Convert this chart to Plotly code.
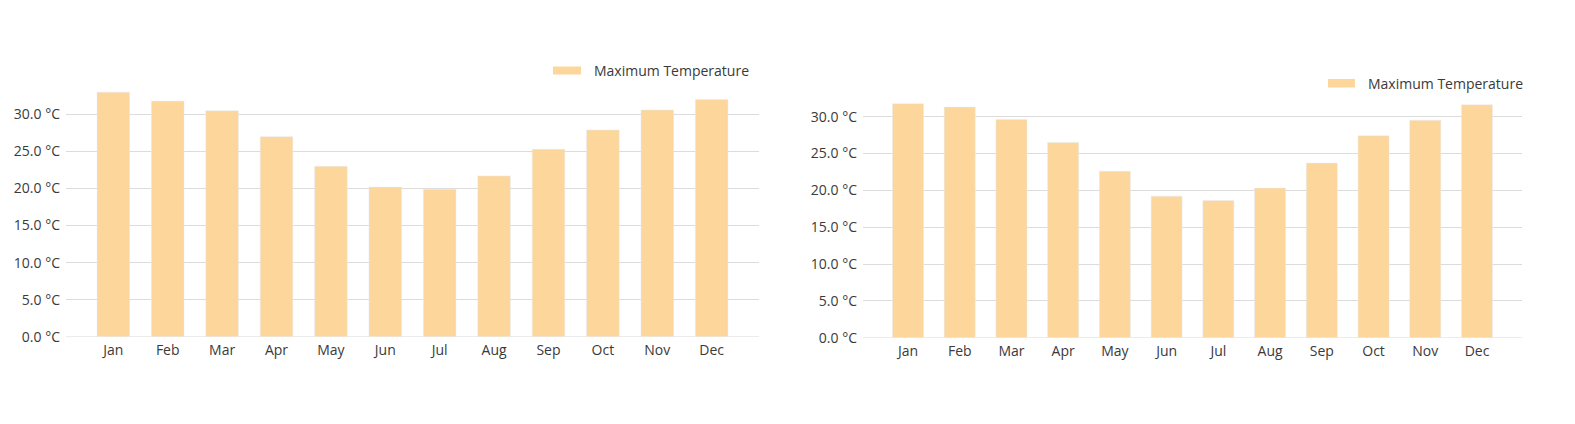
import plotly.graph_objects as go

months = ["Jan", "Feb", "Mar", "Apr", "May", "Jun", "Jul", "Aug", "Sep", "Oct", "Nov", "Dec"]
max_temp_left = [33.0, 31.8, 30.5, 27.0, 23.0, 20.2, 19.9, 21.7, 25.3, 27.9, 30.6, 32.0]
max_temp_right = [31.75, 31.3, 29.6, 26.5, 22.6, 19.2, 18.6, 20.3, 23.7, 27.4, 29.5, 31.6]
series_name = "Maximum Temperature"
y_ticks = [0, 5, 10, 15, 20, 25, 30]
y_tick_labels = ["0.0 °C", "5.0 °C", "10.0 °C", "15.0 °C", "20.0 °C", "25.0 °C", "30.0 °C"]

OFF = 8  # browser body margin
W, H = 1575 - 2 * OFF, 424 - 2 * OFF
BAR = "#FDD69B"
TXT = "#3a3a3a"
GRID = "#dcdcdc"
FONT = "Open Sans"

fig = go.Figure()
fig.add_trace(go.Bar(x=months, y=max_temp_left, marker_color=BAR, width=0.6,
                     name=series_name, xaxis="x", yaxis="y", showlegend=False,
                     hovertemplate="%{x}: %{y:.1f} °C<extra></extra>"))
fig.add_trace(go.Bar(x=months, y=max_temp_right, marker_color=BAR, width=0.6,
                     name=series_name, xaxis="x2", yaxis="y2", showlegend=False,
                     hovertemplate="%{x}: %{y:.1f} °C<extra></extra>"))

def px_x(p):
    return (p - OFF) / W

def px_y(p):
    return (H - (p - OFF)) / H

xcommon = dict(type="category", showgrid=False, zeroline=False, showline=False, ticks="",
               tickfont=dict(family=FONT, size=14, color=TXT), range=[-0.87, 11.87],
               fixedrange=True, automargin=False, ticklabelstandoff=3)
ycommon = dict(showgrid=True, gridcolor=GRID, gridwidth=1, zeroline=True, zerolinecolor="#ececec",
               zerolinewidth=1, showline=False, ticks="", tickvals=y_ticks, ticktext=y_tick_labels,
               tickfont=dict(family=FONT, size=14, color=TXT), fixedrange=True, automargin=False,
               ticklabelstandoff=5)

fig.update_layout(
    width=W, height=H,
    margin=dict(l=0, r=0, t=0, b=0, pad=0, autoexpand=False),
    paper_bgcolor="white", plot_bgcolor="white",
    font=dict(family=FONT, size=14, color=TXT),
    bargap=0.4,
    showlegend=False,
    xaxis=dict(domain=[px_x(66), px_x(759)], anchor="y", **xcommon),
    yaxis=dict(domain=[px_y(336.7), px_y(88.5)], range=[0, 33.5], anchor="x", **ycommon),
    xaxis2=dict(domain=[px_x(863), px_x(1522)], anchor="y2", **xcommon),
    yaxis2=dict(domain=[px_y(337.7), px_y(94.5)], range=[0, 33.0], anchor="x2", **ycommon),
)

# Custom legend swatches + labels (real text)
legends = [
    dict(x0=553, x1=581, y0=66.5, y1=74.5, tx=592, ty=70.5),
    dict(x0=1328, x1=1355, y0=79, y1=87.5, tx=1366, ty=83.3),
]
for lg in legends:
    fig.add_shape(type="rect", xref="paper", yref="paper",
                  x0=px_x(lg["x0"]), x1=px_x(lg["x1"]), y0=px_y(lg["y1"]), y1=px_y(lg["y0"]),
                  fillcolor=BAR, line=dict(width=0))
    fig.add_annotation(xref="paper", yref="paper", x=px_x(lg["tx"]), y=px_y(lg["ty"]),
                       text=series_name, showarrow=False, xanchor="left", yanchor="middle",
                       font=dict(family=FONT, size=14, color=TXT))

fig.write_html("out.html")
